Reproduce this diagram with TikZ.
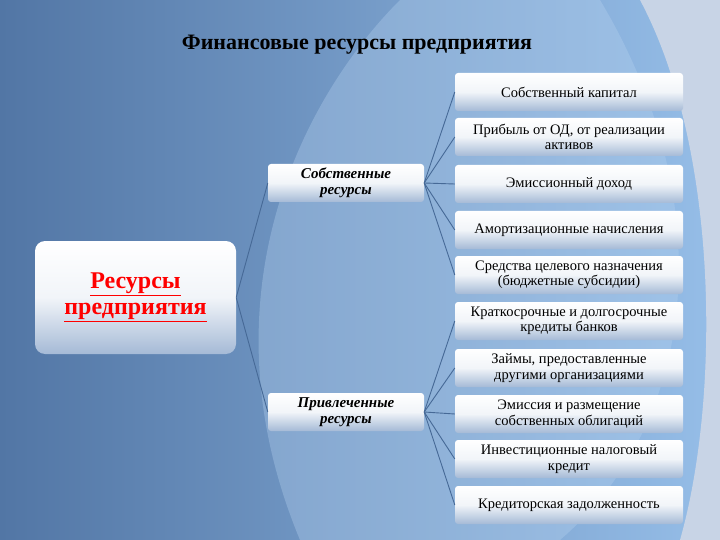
\documentclass[tikz,border=0pt]{standalone}
\usepackage{fontspec}
\setmainfont{Liberation Serif}
\definecolor{bgdark}{RGB}{82,118,165}
\definecolor{bglight}{RGB}{150,190,232}
\definecolor{bgpale}{RGB}{200,212,230}
\definecolor{boxbot}{RGB}{165,186,214}
\definecolor{wire}{RGB}{70,105,150}
\begin{document}
\begin{tikzpicture}[x=1pt,y=-1pt,
  rbox/.style={draw=none,rounded corners=3pt,top color=white,bottom color=boxbot,middle color=white!85!boxbot,
    minimum width=228pt,minimum height=38pt,align=center,font=\fontsize{14.5}{15.5}\selectfont,inner sep=1pt},
  mbox/.style={rbox,minimum width=156pt,font=\bfseries\itshape\fontsize{15}{16}\selectfont},
  wirel/.style={draw=wire,line width=0.9pt}]
\useasboundingbox (0,0) rectangle (720,540);
\fill[left color=bgdark,right color=bglight] (0,0) rectangle (720,540);
\begin{scope}
\clip (0,0) rectangle (720,540);
\fill[bgpale] (640,0) .. controls (720,150) and (720,400) .. (680,540) -- (720,540) -- (720,0) -- cycle;
\fill[bglight!70!white,opacity=0.35] (600,0) .. controls (720,200) and (700,420) .. (560,540) -- (300,540) .. controls (200,300) and (300,100) .. (400,0) -- cycle;
\end{scope}
\node (title) at (357,45) {\bfseries\fontsize{22}{24}\selectfont Финансовые ресурсы предприятия};
\node[rbox,minimum width=201pt,minimum height=113pt,rounded corners=10pt,
  font=\bfseries\fontsize{24}{26}\selectfont,text=red] (res) at (135.5,297.5)
  {\underline{Ресурсы}\\\underline{предприятия}};
\node[mbox] (own) at (346,183) {Собственные\\ресурсы};
\node[mbox] (att) at (346,412) {Привлеченные\\ресурсы};
\node[rbox] (a1) at (569,92) {Собственный капитал};
\node[rbox] (a2) at (569,137) {Прибыль от ОД, от реализации\\активов};
\node[rbox] (a3) at (569,184) {Эмиссионный доход};
\node[rbox] (a4) at (569,230) {Амортизационные начисления};
\node[rbox] (a5) at (569,275) {Средства целевого назначения\\(бюджетные субсидии)};
\node[rbox] (b1) at (569,321) {Краткосрочные и долгосрочные\\кредиты банков};
\node[rbox] (b2) at (569,368) {Займы, предоставленные\\другими организациями};
\node[rbox] (b3) at (569,414) {Эмиссия и размещение\\собственных облигаций};
\node[rbox] (b4) at (569,459) {Инвестиционные налоговый\\кредит};
\node[rbox] (b5) at (569,505) {Кредиторская задолженность};
\draw[wirel] (res.east) -- (own.west);
\draw[wirel] (res.east) -- (att.west);
\foreach \t in {a1,a2,a3,a4,a5} \draw[wirel] (own.east) -- (\t.west);
\foreach \t in {b1,b2,b3,b4,b5} \draw[wirel] (att.east) -- (\t.west);
\end{tikzpicture}
\end{document}
